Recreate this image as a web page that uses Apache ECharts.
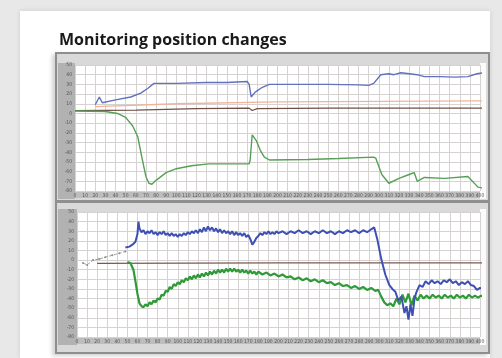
<!DOCTYPE html>
<html>
<head>
<meta charset="utf-8">
<script src="https://cdn.jsdelivr.net/npm/echarts@6/dist/echarts.min.js"></script>
<style>
  html, body { margin: 0; padding: 0; width: 502px; height: 358px; overflow: hidden; background: #e8e8e8; }
  .abs { position: absolute; }
  #card { left: 20px; top: 11px; width: 470px; height: 347px; background: #fff; box-shadow: 0 0 5px rgba(0,0,0,0.12); }
  #frame { left: 55px; top: 52px; width: 431px; height: 298px; background: #d9d9d9; border: 2px solid #8e8e8e; box-shadow: -3px 2px 4px rgba(0,0,0,0.18); }
  .side { background: #b2b2b2; }
  .xstrip { background: #bdbdbd; }
  .rmargin { background: #fbfbfb; }
  .sep { background: #8f8f8f; }
  #chart { left: 0; top: 0; width: 502px; height: 358px; }
</style>
</head>
<body>
<div id="card" class="abs"></div>
<div id="frame" class="abs"></div>
<div class="abs side" style="left:58px;top:63px;width:17px;height:136px;"></div>
<div class="abs xstrip" style="left:75px;top:191px;width:405px;height:7px;"></div>
<div class="abs rmargin" style="left:480px;top:63px;width:6px;height:136px;"></div>
<div class="abs sep" style="left:57px;top:200px;width:431px;height:3px;"></div>
<div class="abs side" style="left:58px;top:209px;width:19px;height:136px;"></div>
<div class="abs xstrip" style="left:77px;top:337px;width:403px;height:7px;"></div>
<div class="abs rmargin" style="left:480px;top:209px;width:6px;height:136px;"></div>
<div id="chart" class="abs"></div>
<script>
// ---- data (x = time index, y = relative position) ----
const titleText = 'Monitoring position changes';

const topBlue = [[20,9],[24,17],[27,11],[40,14],[55,17],[65,21],[72,26],[78,31],[100,31],[130,32],[150,32],[170,33],[172,30],[174,17],[178,22],[185,27],[192,30],[220,30],[250,30],[280,29.5],[290,29],[295,31],[302,40],[310,41],[315,40],[322,42],[330,41],[338,40],[345,38],[360,38],[375,37.5],[388,38],[397,41],[403,42]];
const topDark = [[0,3],[60,3.5],[120,5],[172,5.5],[175,3],[180,5],[250,5.5],[403,5.5]];
const topOrange = [[20,7],[100,10],[200,12],[403,13]];
const topGreen = [[0,2.5],[30,2],[42,0],[50,-4],[57,-13],[62,-24],[66,-45],[70,-65],[73,-72],[76,-73],[80,-69],[90,-61],[100,-57],[115,-54],[132,-52],[150,-52],[172,-52],[173,-48],[175,-22],[179,-28],[183,-38],[187,-45],[192,-48],[230,-47.5],[260,-46.5],[295,-45],[297,-46],[303,-63],[310,-72],[320,-67],[330,-63],[335,-61],[338,-70],[345,-66],[365,-67],[388,-65],[398,-76],[403,-77]];

const botGray = [[6,-3],[10,-5],[16,0],[22,1],[28,3],[35,5],[42,7],[48,9]];
const botDark = [[20,-3.5],[200,-3],[403,-3]];
const botBlue = [[48,13],[52,14],[55,16],[58,19],[60,27],[61,40],[62,33],[64,29],[66,31],[68,27],[70,30],[72,28],[74,31],[76,27],[78,29],[80,26],[82,29],[84,27],[86,30],[88,26],[90,28],[92,25],[94,28],[96,25],[98,27],[100,24],[102,27],[104,25],[106,28],[108,26],[110,29],[112,27],[114,30],[116,28],[118,31],[120,28],[122,32],[124,29],[126,34],[128,30],[130,35],[132,31],[134,34],[136,30],[138,33],[140,29],[142,32],[144,28],[146,31],[148,28],[150,30],[152,27],[154,30],[156,26],[158,29],[160,26],[162,28],[164,25],[166,28],[168,24],[170,26],[172,22],[174,16],[176,19],[178,23],[180,25],[182,28],[184,26],[186,29],[188,27],[190,30],[192,27],[194,29],[196,27],[198,30],[200,28],[204,30],[208,27],[212,30],[216,28],[220,31],[224,28],[228,30],[232,27],[236,30],[240,28],[244,31],[248,28],[252,30],[256,27],[260,30],[264,28],[268,31],[272,29],[276,31],[280,28],[284,31],[288,29],[292,32],[295,34],[298,22],[302,1],[306,-15],[310,-26],[313,-30],[316,-33],[319,-42],[322,-38],[325,-55],[327,-48],[329,-62],[331,-46],[333,-58],[335,-40],[337,-33],[340,-26],[343,-28],[346,-22],[349,-25],[352,-21],[355,-24],[358,-22],[361,-25],[364,-21],[367,-23],[370,-20],[373,-24],[376,-22],[379,-26],[382,-23],[385,-25],[388,-22],[391,-26],[394,-27],[397,-31],[400,-29],[403,-30]];
const botGreen = [[50,-2],[53,-3],[56,-10],[58,-22],[60,-35],[62,-45],[64,-48],[66,-49],[68,-46],[70,-48],[72,-44],[74,-46],[76,-42],[78,-44],[80,-40],[82,-41],[84,-36],[86,-37],[88,-32],[90,-33],[92,-28],[94,-30],[96,-25],[98,-27],[100,-23],[102,-25],[104,-21],[106,-23],[108,-19],[110,-21],[112,-17],[114,-20],[116,-16],[118,-19],[120,-15],[122,-18],[124,-14],[126,-17],[128,-13],[130,-16],[132,-12],[134,-15],[136,-11],[138,-14],[140,-10],[142,-13],[144,-10],[146,-13],[148,-9],[150,-12],[152,-9],[154,-12],[156,-9],[158,-12],[160,-10],[162,-13],[164,-10],[166,-13],[168,-11],[170,-14],[172,-11],[174,-14],[176,-12],[178,-15],[180,-12],[184,-15],[188,-13],[192,-16],[196,-14],[200,-17],[204,-15],[208,-18],[212,-17],[216,-20],[220,-18],[224,-21],[228,-19],[232,-22],[236,-20],[240,-23],[244,-21],[248,-24],[252,-23],[256,-26],[260,-24],[264,-27],[268,-26],[272,-29],[276,-27],[280,-30],[284,-28],[288,-31],[292,-29],[296,-32],[299,-31],[302,-38],[305,-44],[308,-47],[311,-45],[314,-48],[317,-40],[320,-46],[323,-36],[326,-44],[329,-35],[332,-47],[335,-37],[338,-42],[341,-36],[344,-40],[347,-37],[350,-40],[353,-36],[356,-39],[359,-37],[362,-40],[365,-36],[368,-39],[371,-37],[374,-40],[377,-36],[380,-39],[383,-37],[386,-40],[389,-36],[392,-39],[395,-37],[398,-39],[401,-37],[403,-38]];

const xMin = 0, xMax = 400, xStep = 10;
const yMin = -80, yMax = 50, yStep = 10;

// ---- chart ----
const chart = echarts.init(document.getElementById('chart'), null, { renderer: 'canvas' });
const gridLine = { show: true, lineStyle: { color: '#d6d2d2', width: 1 } };
function xAx(i) {
  return { type: 'value', gridIndex: i, min: xMin, max: xMax, interval: xStep,
    axisLine: { show: false }, axisTick: { show: false }, splitLine: gridLine,
    axisLabel: { fontSize: 5, color: '#555', margin: 2, fontFamily: 'DejaVu Sans Condensed, DejaVu Sans' } };
}
function yAx(i) {
  return { type: 'value', gridIndex: i, min: yMin, max: yMax, interval: yStep,
    axisLine: { show: false }, axisTick: { show: false }, splitLine: gridLine,
    axisLabel: { fontSize: 5, color: '#555', margin: 3, fontFamily: 'DejaVu Sans Condensed, DejaVu Sans' } };
}
function line(data, xi, color, width, extra) {
  return Object.assign({ type: 'line', xAxisIndex: xi, yAxisIndex: xi, data: data, showSymbol: false,
    lineStyle: { color: color, width: width }, itemStyle: { color: color }, animation: false, silent: true }, extra || {});
}
chart.setOption({
  animation: false,
  title: { text: titleText, left: 54, top: 27, textStyle: { fontSize: 16, fontWeight: 'bold', color: '#1a1a1a', fontFamily: 'Open Sans' } },
  grid: [
    { left: 75, top: 65, width: 405, height: 126, show: true, backgroundColor: '#ffffff', borderWidth: 0 },
    { left: 77, top: 212, width: 403, height: 125, show: true, backgroundColor: '#ffffff', borderWidth: 0 }
  ],
  xAxis: [xAx(0), xAx(1)],
  yAxis: [yAx(0), yAx(1)],
  series: [
    line(topOrange, 0, '#f0b49a', 1.3),
    line(topDark, 0, '#6e5048', 1.2),
    line(topGreen, 0, '#55a055', 1.4),
    line(topBlue, 0, '#6270c0', 1.4),
    line(botDark, 1, '#7a5a50', 1.2),
    line(botGray, 1, '#8a8a8a', 0.8, { showSymbol: true, symbol: 'circle', symbolSize: 2, lineStyle: { color: '#8a8a8a', width: 0.8, type: 'dashed' } }),
    line(botGreen, 1, '#2f9a38', 2.2),
    line(botBlue, 1, '#3f50b3', 2.0)
  ]
});
</script>
</body>
</html>
